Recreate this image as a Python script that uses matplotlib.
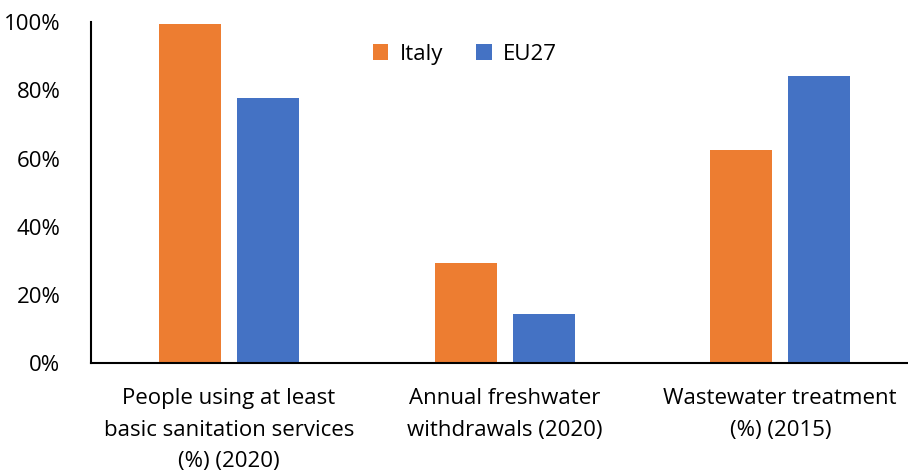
import matplotlib
matplotlib.use("Agg")
import matplotlib.pyplot as plt
import numpy as np

categorias = ["People using at least\nbasic sanitation services\n(%) (2020)",
              "Annual freshwater\nwithdrawals (2020)",
              "Wastewater treatment\n(%) (2015)"]
italy = [99.4, 29.3, 62.5]
eu27 = [77.9, 14.4, 84.2]
yticks = [0, 20, 40, 60, 80, 100]

plt.rcParams["font.family"] = ["Open Sans", "DejaVu Sans"]

fig = plt.figure(figsize=(9.08, 4.71), dpi=100)
ax = fig.add_axes([0.1002, 0.2286, 0.911, 0.7244])

x = np.arange(len(categorias))
w = 0.225
ax.bar(x - 0.1415, italy, w, color="#ED7D31", label="Italy")
ax.bar(x + 0.1415, eu27, w, color="#4472C4", label="EU27")

ax.set_xlim(-0.5, 2.5)
ax.set_ylim(0, 100)
ax.set_yticks(yticks)
ax.set_yticklabels([f"{v}%" for v in yticks], fontsize=16)
ax.set_xticks(x)
ax.set_xticklabels(categorias, fontsize=16, linespacing=1.65)
ax.tick_params(length=0)
ax.tick_params(axis="x", pad=18)
ax.tick_params(axis="y", pad=22)
for s in ("top", "right"):
    ax.spines[s].set_visible(False)
for s in ("left", "bottom"):
    ax.spines[s].set_linewidth(1.5)

ax.legend(loc="upper center", bbox_to_anchor=(0.452, 0.995), ncol=2, frameon=False,
          fontsize=16, handlelength=0.7, handleheight=0.7, columnspacing=1.5,
          handletextpad=0.5)

fig.savefig("out.png", dpi=100)
